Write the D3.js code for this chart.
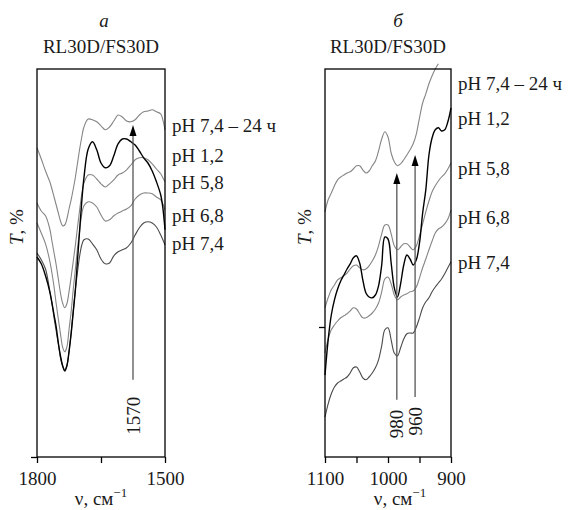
<!DOCTYPE html>
<html>
<head>
<meta charset="utf-8">
<script src="https://cdn.jsdelivr.net/npm/d3@7"></script>
<style>
  body { margin: 0; background: #fff; }
  svg text { font-family: "Liberation Serif", "Times New Roman", serif; font-size: 19px; fill: #1a1a1a; }
</style>
</head>
<body>
<div id="chart"></div>
<script>
// curve names, top to bottom as labelled on the right
const seriesNames = ["pH 7,4 – 24 ч", "pH 1,2", "pH 5,8", "pH 6,8", "pH 7,4"];

// panel a: 1800-1500 cm-1, T in arbitrary units
const nuA = [1800, 1790, 1780, 1770, 1765, 1760, 1755, 1750, 1745, 1740, 1735, 1730, 1725, 1720,
  1715, 1710, 1705, 1700, 1695, 1690, 1680, 1670, 1660, 1650, 1640, 1630, 1620, 1610, 1600, 1590,
  1580, 1570, 1560, 1550, 1540, 1530, 1520, 1510, 1505, 1500];
const a_ph74_24h = [77.3, 74.5, 71.5, 68.8, 67, 65, 63, 61, 59, 57.8, 58, 59.5, 62, 64.3, 67, 70, 73.5,
  77, 80, 82.5, 84.5, 84.3, 83.8, 82.8, 81.8, 82.5, 84, 85.5, 85, 84, 83.8, 84.3, 85.5, 86.3, 86.5,
  86.8, 86.3, 85.8, 84.3, 81.8];
const a_ph12 = [50, 48.3, 45.3, 41.3, 38.5, 35.5, 32.5, 28.5, 25.3, 22.8, 21.5, 22.8, 26.3, 30.8, 36.3,
  41.8, 49.3, 56.8, 64, 69.8, 77, 78.8, 76.8, 73.5, 72.3, 72.8, 75.3, 78.3, 79.5, 79.5, 78.8, 78,
  76.5, 74.8, 73.5, 71.5, 68.8, 65.5, 62.3, 56.8];
const a_ph58 = [63.5, 61.5, 60.3, 57, 54, 51, 48, 44.5, 41, 38.5, 37.3, 38.3, 41.3, 45, 49, 53, 57.5,
  61.8, 65.8, 68.5, 70.5, 70.5, 69.5, 68.3, 67.5, 68.3, 69.3, 70.5, 71, 71.8, 73, 74.3, 74.8, 74.8,
  74.3, 73.3, 72, 70.8, 69.8, 68.8];
const a_ph68 = [58.5, 56, 53.3, 49, 46, 42.5, 38.3, 34.5, 30.8, 27.5, 26.3, 27.5, 31.8, 36.3, 42, 47,
  52.3, 56.5, 60.8, 62.8, 63.8, 63.5, 62.5, 60.5, 59, 59.3, 60.3, 61, 61.5, 62, 62.8, 64.5, 65.5, 66,
  66, 65.8, 65, 64.3, 63.3, 61.8];
const a_ph74 = [51, 49.3, 47, 41.5, 38.5, 34.8, 31.5, 28.3, 24.8, 22.8, 21.8, 22.8, 26.3, 31, 36.5, 42,
  46.3, 50.3, 53, 54.3, 54.5, 53.3, 51.8, 49.5, 48.3, 48.5, 50.3, 51.3, 51.8, 52.3, 53.5, 55.5, 57.3,
  58.5, 58.8, 58.5, 57.5, 55.5, 54.3, 53];

// panel b: 1100-900 cm-1
const nuB = [1100, 1095, 1090, 1085, 1080, 1075, 1070, 1065, 1060, 1055, 1050, 1045, 1040, 1035, 1030,
  1025, 1020, 1015, 1010, 1005, 1000, 995, 990, 985, 980, 975, 970, 965, 960, 955, 950, 945, 940, 935,
  930, 925, 920, 915, 910, 905, 900];
const b_ph74_24h = [61.3, 64.3, 66, 67.8, 69.3, 70, 70.5, 71, 71.3, 72, 72.8, 72.8, 71.8, 71, 71.5, 72.8,
  74, 76.5, 79.5, 81.3, 80, 76, 73.8, 72.8, 73.3, 74.3, 75.5, 76.8, 78.3, 80.8, 84.8, 88.5, 90.8, 93.3,
  95.3, 97, 98.3, null, null, null, null];
const b_ph12 = [20.5, 29.3, 35.5, 39.3, 42, 44, 45.5, 47, 48.3, 49.8, 50.3, 48.5, 44.3, 41, 40, 39.8,
  40.5, 42.8, 48, 55, 54.5, 48.5, 42.3, 40, 43.3, 48, 50.5, 49.5, 48, 49.3, 53.5, 61, 66.8, 75.5, 79.8,
  81.8, 82.3, 81.5, 81.8, 83.8, 87.3];
const b_ph58 = [37.3, 39.8, 41.8, 43, 44.3, 44.8, 45.3, 46, 47, 47.8, 48, 47.3, 46.8, 47, 47.8, 49, 50.5,
  52.8, 55.8, 58, 58, 55.8, 52.8, 51.8, 52.5, 53.3, 53.3, 52.5, 51.8, 52.8, 55.3, 58.3, 61.3, 64, 66.3,
  67.8, 69, 70, 70.8, 72, 73.5];
const b_ph68 = [26, 29.5, 31.8, 33, 34, 34.8, 35.3, 35.8, 36.5, 37.3, 37, 35.8, 34.8, 34.8, 35.3, 36, 37,
  38.5, 41.3, 44.5, 45, 43.3, 40.5, 39.3, 40, 40.5, 40.8, 41.3, 41.5, 42.5, 44.8, 47.3, 49.5, 51.8, 54,
  56, 57, 57.5, 58.3, 59.5, 61.8];
const b_ph74 = [10, 13.3, 15.8, 17.5, 18.5, 19, 19.5, 20, 21, 22.3, 22.5, 21.3, 19.8, 19.3, 20, 21, 22.3,
  24.3, 27.8, 31.8, 32.3, 29.3, 26, 25.3, 27.3, 29.5, 30.8, 31, 31, 32.5, 34.8, 37.3, 38.8, 39.8, 41.3,
  42.5, 43.5, 44.5, 45.8, 47.3, 48.8];

// axis ticks
const ticksA = [1800, 1650, 1500];
const tickLabelsA = [1800, 1500];
const ticksB = [1100, 1050, 1000, 950, 900];
const tickLabelsB = [1100, 1000, 900];

// marked bands: position, arrow bottom and tip (T units), label
const arrowsA = [{ nu: 1575, from: 19.3, to: 83, label: "1570" }];
const arrowsB = [
  { nu: 986, from: 14.3, to: 71, label: "980" },
  { nu: 957, from: 15, to: 75.5, label: "960" }
];

(function () {

  const colors = { "pH 7,4 – 24 ч": "#858585", "pH 1,2": "#000", "pH 5,8": "#858585",
    "pH 6,8": "#858585", "pH 7,4": "#4a4a4a" };

  let svg = d3.select("#chart").append("svg")
    .attr("width", 571)
    .attr("height", 510);

  function drawPanel (p) {
    let x = d3.scaleLinear().domain(p.domain).range([p.left, p.right]);
    let y = d3.scaleLinear().domain([0, 97]).range([457, 69]);
    let bottom = y.range()[0], top = y.range()[1];
    let cx = (p.left + p.right) / 2;
    let g = svg.append("g");

    // titles
    g.append("text").attr("x", cx + p.letterShift).attr("y", 27)
      .attr("text-anchor", "middle").style("font-style", "italic").text(p.letter);
    g.append("text").attr("x", cx).attr("y", 53)
      .attr("text-anchor", "middle").text("RL30D/FS30D");

    // spectra, grey ones first so the black one sits on top
    let line = d3.line()
      .defined(d => d[1] != null)
      .x(d => x(d[0]))
      .y(d => y(d[1]))
      .curve(d3.curveCatmullRom.alpha(0.5));
    let order = [0, 2, 3, 4, 1];
    order.forEach(i => {
      g.append("path")
        .datum(p.nu.map((v, k) => [v, p.series[i][k]]))
        .attr("fill", "none")
        .attr("stroke", colors[seriesNames[i]])
        .attr("stroke-width", i == 1 ? 1.4 : 1.1)
        .attr("stroke-linejoin", "round")
        .attr("d", line);
    });

    // arrows
    p.arrows.forEach(a => {
      let ax = x(a.nu), y0 = y(a.from), y1 = y(a.to);
      g.append("line")
        .attr("x1", ax).attr("x2", ax)
        .attr("y1", y0).attr("y2", y1 + 8)
        .attr("stroke", "#555").attr("stroke-width", 1.3);
      g.append("path")
        .attr("d", `M${ax},${y1}L${ax - 3.5},${y1 + 11}L${ax + 3.5},${y1 + 11}Z`)
        .attr("fill", "#000");
      g.append("text")
        .attr("transform", `translate(${ax},${y0 + p.arrowGap}) rotate(-90)`)
        .attr("text-anchor", "end").attr("dy", "0.35em")
        .text(a.label);
    });

    // frame
    g.append("rect")
      .attr("x", p.left).attr("y", top)
      .attr("width", p.right - p.left).attr("height", bottom - top)
      .attr("fill", "none").attr("stroke", "#000").attr("stroke-width", 1.3);

    // x axis
    g.append("g")
      .attr("transform", "translate(0," + bottom + ")")
      .call(d3.axisBottom(x).tickValues(p.ticks).tickSize(6).tickPadding(9)
        .tickFormat(d => p.tickLabels.includes(d) ? d : ""))
      .call(s => s.select(".domain").remove())
      .call(s => s.selectAll("line").attr("stroke-width", 1.3));

    // y axis tick
    g.append("g")
      .attr("transform", "translate(" + p.left + ",0)")
      .call(d3.axisLeft(y).tickValues(p.yTicks).tickSize(6).tickFormat(""))
      .call(s => s.select(".domain").remove())
      .call(s => s.selectAll("line").attr("stroke-width", 1.3));

    // axis titles
    let xl = g.append("text").attr("x", cx + p.xLabelShift).attr("y", 505)
      .attr("text-anchor", "middle");
    xl.append("tspan").text("ν, см");
    xl.append("tspan").attr("dy", -8).style("font-size", "13px").text("−1");

    let yl = g.append("text")
      .attr("transform", `translate(${p.left - 14},227) rotate(-90)`)
      .attr("text-anchor", "middle");
    yl.append("tspan").style("font-style", "italic").text("T");
    yl.append("tspan").text(", %");

    // curve labels
    seriesNames.forEach((name, i) => {
      g.append("text")
        .attr("x", p.right + 7).attr("y", p.labelY[i])
        .attr("dy", "0.35em")
        .text(name);
    });
  }

  drawPanel({
    letter: "а", letterShift: 3, left: 37, right: 165, domain: [1800, 1500],
    nu: nuA, series: [a_ph74_24h, a_ph12, a_ph58, a_ph68, a_ph74],
    ticks: ticksA, tickLabels: tickLabelsA, yTicks: [0],
    arrows: arrowsA, arrowGap: 17, xLabelShift: 0,
    labelY: [125, 155, 182, 215, 243]
  });

  drawPanel({
    letter: "б", letterShift: 10, left: 325, right: 451, domain: [1100, 900],
    nu: nuB, series: [b_ph74_24h, b_ph12, b_ph58, b_ph68, b_ph74],
    ticks: ticksB, tickLabels: tickLabelsB, yTicks: [32.5],
    arrows: arrowsB, arrowGap: 10, xLabelShift: 12,
    labelY: [83, 118, 168, 217, 262]
  });

})();
</script>
</body>
</html>
